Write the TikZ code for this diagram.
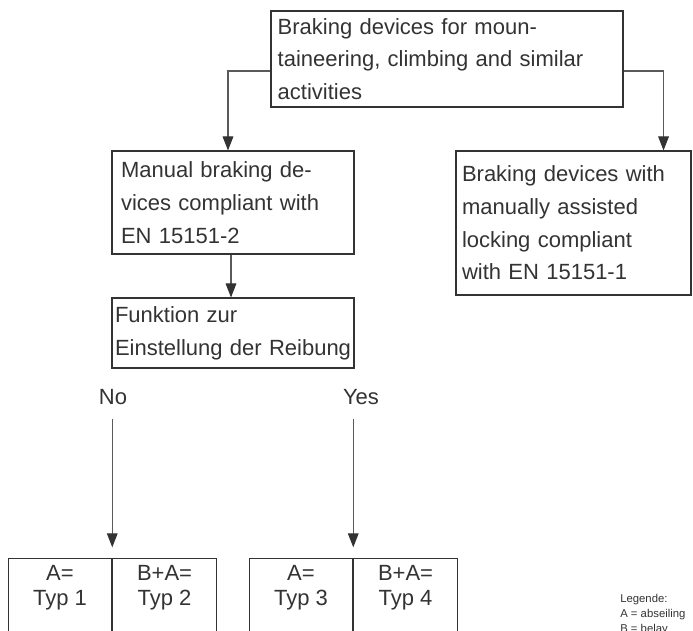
\documentclass[tikz,border=0pt]{standalone}
\usepackage{fontspec}
\setmainfont{Liberation Sans}
\usetikzlibrary{arrows.meta,positioning}

\definecolor{inkgray}{HTML}{333333}
\definecolor{linegray}{HTML}{5a5a5a}

\tikzset{
  box/.style={draw=inkgray, line width=0.8pt, align=left, text=inkgray,
    font=\fontsize{16.5}{24.5}\selectfont},
  typbox/.style={draw=inkgray, line width=0.8pt, align=center, anchor=north,
    minimum width=77.6pt, text height=30.5pt, text depth=80pt, inner ysep=4.5pt,
    text=inkgray, font=\fontsize{16.5}{18.75}\selectfont},
  answer/.style={text=inkgray, font=\fontsize{16.5}{20}\selectfont},
  flow/.style={draw=linegray, line width=0.8pt,
    -{Triangle[length=10.5pt,width=8pt,color=inkgray]}},
}

\begin{document}
\begin{tikzpicture}[x=0.75pt,y=-0.75pt]
\useasboundingbox (0,0) rectangle (693,631);
\clip (0,0) rectangle (693,631);

% boxes
\node[box, inner xsep=5pt, text width=254pt, minimum height=72pt] (top) at (447,59)
  {Braking devices for moun-\\taineering, climbing and similar\\activities};
\node[box, inner xsep=6.75pt, text width=168pt, minimum height=77.25pt] (manual) at (233,202.5)
  {Manual braking de-\\vices compliant with\\EN 15151-2};
\node[box, inner xsep=4.5pt, text width=167.25pt, minimum height=108pt] (assisted) at (573.5,223)
  {Braking devices with\\manually assisted\\locking compliant\\with EN 15151-1};
\node[box, inner xsep=2.25pt, text width=177pt, minimum height=52.5pt] (friction) at (233,333)
  {\mbox{Funktion zur}\\\mbox{Einstellung der Reibung}};

% answers
\node[answer] (no) at (113,397) {No};
\node[answer] (yes) at (361,397) {Yes};

% type boxes
\node[typbox] (t1) at (60,558) {A=\\Typ 1};
\node[typbox, right=0pt of t1] (t2) {B+A=\\Typ 2};
\node[typbox] (t3) at (301,558) {A=\\Typ 3};
\node[typbox, right=0pt of t3] (t4) {B+A=\\Typ 4};

% legend
\node[anchor=north west, align=left, inner sep=0pt, text=inkgray,
  font=\fontsize{8.5}{11.2}\selectfont] (legend) at (620,594)
  {Legende:\\A = abseiling\\B = belay};

% connectors
\draw[flow] ([yshift=-9pt]top.west) -| ([xshift=-3.75pt]manual.north);
\draw[flow] ([yshift=-9pt]top.east) -| ([xshift=-21pt]assisted.north east);
\draw[flow] ([xshift=-1.5pt]manual.south) -- ([xshift=-1.5pt]friction.north);
\draw[flow, shorten >=8pt] ([yshift=-7pt]no.south -| t1.north east) -- (t1.north east);
\draw[flow, shorten >=8pt] ([yshift=-7pt]yes.south -| t3.north east) -- (t3.north east);

\end{tikzpicture}
\end{document}
